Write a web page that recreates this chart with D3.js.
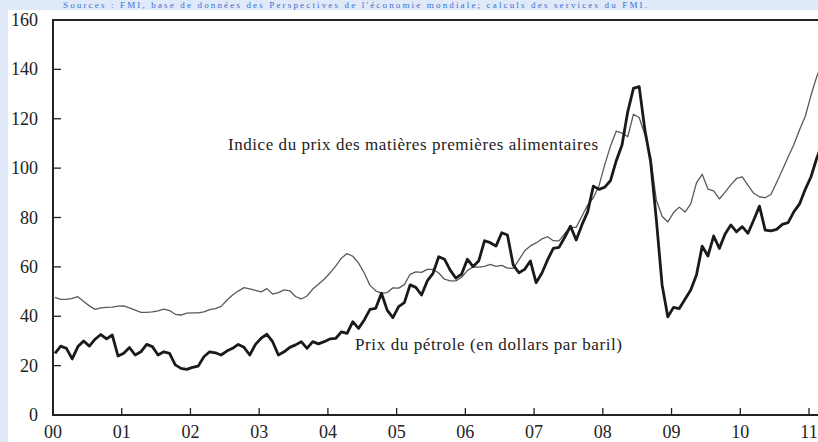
<!DOCTYPE html>
<html>
<head>
<meta charset="utf-8">
<script src="https://cdn.jsdelivr.net/npm/d3@7"></script>
<style>
  html, body { margin: 0; padding: 0; background: #dfe9f8; }
  svg { display: block; }
  text { font-family: "Liberation Serif", "DejaVu Serif", serif; }
</style>
</head>
<body>
<svg id="chart"></svg>
<script>
// monthly values, Jan 2000 -> Mar 2011
const foodIndex = [
  47.6, 46.8, 46.8, 47.2, 47.9, 46.0, 44.2, 42.8, 43.4, 43.6, 43.7, 44.1,
  44.2, 43.4, 42.5, 41.6, 41.6, 41.8, 42.2, 42.9, 42.3, 40.8, 40.5, 41.3,
  41.4, 41.4, 41.8, 42.7, 43.1, 44.0, 46.5, 48.6, 50.2, 51.6, 51.1, 50.5,
  49.9, 51.2, 49.0, 49.6, 50.7, 50.3, 48.0, 47.0, 48.2, 51.0, 53.0, 55.0,
  57.5, 60.3, 63.5, 65.4, 64.3, 61.5, 57.5, 52.5, 50.3, 49.4, 49.6, 51.5,
  51.4, 52.8, 57.0, 58.0, 57.8, 59.0, 59.0, 57.5, 55.0, 54.3, 54.3, 55.8,
  58.5, 60.0, 59.9, 60.2, 61.0, 60.2, 60.6, 59.5, 59.4, 62.8, 66.5, 68.5,
  69.7, 71.3, 72.2, 70.6, 70.5, 73.5, 76.0, 76.0, 80.5, 85.0, 88.0, 93.0,
  101.5, 109.0, 115.0, 114.2, 112.7, 121.8, 120.5, 113.5, 104.5, 87.0, 80.5, 78.2,
  82.0, 84.2, 82.2, 85.5, 94.0, 97.5, 91.5, 90.8, 87.5, 90.3, 93.2, 95.8,
  96.5, 93.0, 89.8, 88.4, 88.0, 89.3, 94.2, 99.2, 104.5, 109.5, 115.5, 121.0,
  129.5, 137.0, 143.0
];

const oilPrice = [
  25.0, 27.9, 27.0, 22.7, 27.7, 30.0, 27.9, 30.7, 32.6, 30.8, 32.4, 23.9,
  25.0, 27.3, 24.3, 25.6, 28.6, 27.7, 24.3, 25.6, 25.0, 20.3, 18.9, 18.5,
  19.3, 19.8, 23.6, 25.6, 25.2, 24.3, 25.9, 27.0, 28.6, 27.4, 24.3, 28.6,
  31.1, 32.7, 29.7, 24.3, 25.6, 27.4, 28.4, 29.7, 27.0, 29.7, 28.8, 29.7,
  30.8, 31.0, 33.7, 33.1, 37.8, 35.1, 38.5, 42.8, 43.2, 49.3, 42.5, 39.4,
  43.9, 45.5, 52.7, 51.7, 48.6, 54.3, 57.4, 64.1, 63.1, 58.7, 55.4, 57.1,
  63.1, 60.1, 62.5, 70.6, 69.8, 68.4, 73.8, 72.9, 60.8, 57.6, 59.0, 62.4,
  53.6, 57.4, 62.8, 67.5, 67.9, 72.0, 76.5, 70.9, 77.0, 82.3, 92.7, 91.4,
  92.3, 95.0, 103.0, 109.4, 122.8, 132.3, 133.0, 115.4, 102.6, 79.0, 52.7, 39.8,
  43.6, 43.1, 46.9, 50.6, 56.7, 68.4, 64.4, 72.5, 67.5, 73.3, 77.0, 74.2,
  76.3, 73.6, 79.0, 84.6, 74.9, 74.6, 75.2, 77.2, 77.9, 82.3, 85.5, 91.4,
  96.5, 104.0, 110.0
];

const yearLabels = ["00", "01", "02", "03", "04", "05", "06", "07", "08", "09", "10", "11"];
const yTicks = [0, 20, 40, 60, 80, 100, 120, 140, 160];

const W = 818, H = 442;
const svg = d3.select("#chart").attr("width", W).attr("height", H);

// white panel
svg.append("rect").attr("x", 8).attr("y", 10).attr("width", W - 8).attr("height", H - 10).attr("fill", "#fff");

// source line in the top strip
svg.append("text")
  .attr("x", 63).attr("y", 8)
  .attr("fill", "#3b6fd6")
  .attr("font-size", 9)
  .attr("textLength", 584)
  .text("Sources : FMI, base de données des Perspectives de l'économie mondiale; calculs des services du FMI.");

const x = d3.scaleLinear().domain([0, 132]).range([53, 809]);
const y = d3.scaleLinear().domain([0, 160]).range([415, 20]);

// y axis labels + inward ticks
svg.append("g").attr("font-size", 18).attr("fill", "#222")
  .selectAll("text").data(yTicks).join("text")
  .attr("x", 38).attr("y", d => y(d) + 6)
  .attr("text-anchor", "end")
  .text(d => d);
svg.append("g").selectAll("line").data(yTicks.filter(d => d > 0 && d < 160)).join("line")
  .attr("x1", 53).attr("x2", 61)
  .attr("y1", d => y(d)).attr("y2", d => y(d))
  .attr("stroke", "#222").attr("stroke-width", 1.3);

// x axis labels + ticks
svg.append("g").attr("font-size", 18).attr("fill", "#222")
  .selectAll("text").data(yearLabels).join("text")
  .attr("x", (d, i) => x(i * 12)).attr("y", 438)
  .attr("text-anchor", "middle")
  .text(d => d);
svg.append("g").selectAll("line").data(yearLabels.slice(1)).join("line")
  .attr("x1", (d, i) => x((i + 1) * 12)).attr("x2", (d, i) => x((i + 1) * 12))
  .attr("y1", 415).attr("y2", 408)
  .attr("stroke", "#222").attr("stroke-width", 1.3);

// series
const line = d3.line().x((d, i) => x(i + 0.35)).y(d => y(d));
svg.append("path").datum(foodIndex)
  .attr("d", line).attr("fill", "none")
  .attr("stroke", "#5a5a5a").attr("stroke-width", 1.3).attr("stroke-linejoin", "round");
svg.append("path").datum(oilPrice)
  .attr("d", line).attr("fill", "none")
  .attr("stroke", "#1a1a1a").attr("stroke-width", 2.8).attr("stroke-linejoin", "round");

// frame
svg.append("path")
  .attr("d", `M${W},20 H53 V415 H${W}`)
  .attr("fill", "none").attr("stroke", "#222").attr("stroke-width", 2);

// series labels
svg.append("text").attr("x", 228).attr("y", 150)
  .attr("font-size", 17).attr("fill", "#222")
  .attr("textLength", 370).attr("lengthAdjust", "spacing")
  .text("Indice du prix des matières premières alimentaires");
svg.append("text").attr("x", 355).attr("y", 350)
  .attr("font-size", 17).attr("fill", "#222")
  .attr("textLength", 267).attr("lengthAdjust", "spacing")
  .text("Prix du pétrole (en dollars par baril)");
</script>
</body>
</html>
